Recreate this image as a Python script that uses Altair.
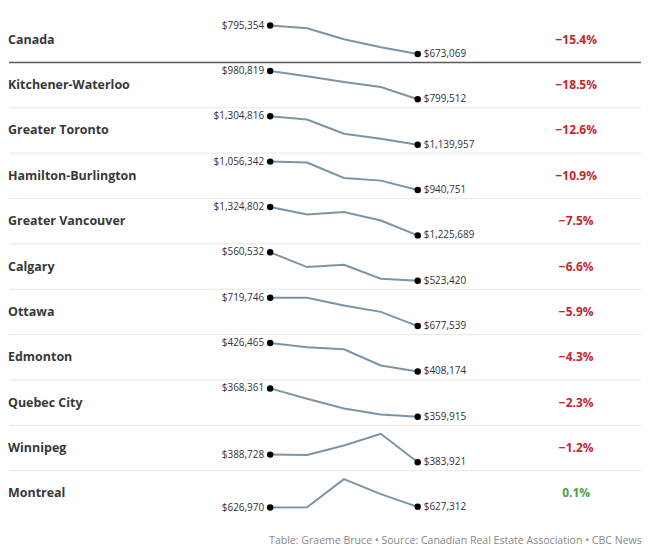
import altair as alt
import pandas as pd

cities = ["Canada", "Kitchener-Waterloo", "Greater Toronto", "Hamilton-Burlington",
          "Greater Vancouver", "Calgary", "Ottawa", "Edmonton", "Quebec City",
          "Winnipeg", "Montreal"]
price_1 = [795354, 980819, 1304816, 1056342, 1324802, 560532, 719746, 426465, 368361, 388728, 626970]
price_2 = [783700, 946900, 1285900, 1052400, 1298200, 541300, 719500, 423700, 365300, 388500, 627100]
price_3 = [736200, 910300, 1203400, 989800, 1307600, 544300, 708000, 422400, 362400, 394500, 641000]
price_4 = [701600, 878400, 1174600, 979000, 1277500, 526000, 698700, 412000, 360600, 402000, 633600]
price_5 = [673069, 799512, 1139957, 940751, 1225689, 523420, 677539, 408174, 359915, 383921, 627312]
pct_change = [-15.4, -18.5, -12.6, -10.9, -7.5, -6.6, -5.9, -4.3, -2.3, -1.2, 0.1]
footer = "Table: Graeme Bruce \u2022 Source: Canadian Real Estate Association \u2022 CBC News"

series = [price_1, price_2, price_3, price_4, price_5]
rows = []
for i, c in enumerate(cities):
    for j, s in enumerate(series):
        rows.append({"city": c, "period": j, "price": s[i]})
df = pd.DataFrame(rows)

cdf = pd.DataFrame({
    "city": cities,
    "pct": pct_change,
    "pct_label": [f"{v:.1f}%".replace("-", "\u2212") for v in pct_change],
})
sep_dark = pd.DataFrame({"city": cities[1:2]})
sep_light = pd.DataFrame({"city": cities[2:]})

FONT = "Open Sans"
yscale = alt.Scale(type="band", domain=cities, range=[8.25, 508.75], paddingInner=0, paddingOuter=0)
yoff_scale = alt.Scale(domain=[0, 1], range=[37, 8.5])
xscale = alt.Scale(domain=[0, 4], range=[262, 410])

Y0 = alt.Y("city:N", scale=yscale, axis=None, bandPosition=0)
YC = alt.Y("city:N", scale=yscale, axis=None)
X = alt.X("period:Q", scale=xscale, axis=None)
YO = alt.YOffset("norm:Q", scale=yoff_scale)

base = alt.Chart(df).transform_joinaggregate(
    pmin="min(price)", pmax="max(price)", groupby=["city"]
).transform_calculate(
    norm="(datum.price - datum.pmin) / (datum.pmax - datum.pmin)"
)

rule_dark = alt.Chart(sep_dark).mark_rule(color="#5a5a5a", strokeWidth=1.5).encode(
    y=Y0, x=alt.value(0), x2=alt.value(634)
)
rule_light = alt.Chart(sep_light).mark_rule(color="#e8e8e8", strokeWidth=1).encode(
    y=Y0, x=alt.value(0), x2=alt.value(634)
)

line = base.mark_line(color="#7b95a6", strokeWidth=2).encode(
    x=X, y=Y0, yOffset=YO, detail="city:N", order="period:Q"
)
points = base.transform_filter("datum.period == 0 || datum.period == 4").mark_circle(
    size=42, color="black", opacity=1
).encode(x=X, y=Y0, yOffset=YO)

start_lbl = base.transform_filter("datum.period == 0").mark_text(
    align="right", dx=-6, baseline="middle", font=FONT, fontSize=10, color="#333333"
).encode(x=X, y=Y0, yOffset=YO, text=alt.Text("price:Q", format="$,d"))

end_lbl = base.transform_filter("datum.period == 4").mark_text(
    align="left", dx=6, baseline="middle", font=FONT, fontSize=10, color="#333333"
).encode(x=X, y=Y0, yOffset=YO, text=alt.Text("price:Q", format="$,d"))

names = alt.Chart(cdf).mark_text(
    align="left", baseline="middle", font=FONT, fontSize=12.5, fontWeight="bold", color="#383838"
).encode(x=alt.value(-1), y=YC, text="city:N")

pct = alt.Chart(cdf).mark_text(
    align="center", baseline="middle", font=FONT, fontSize=12, fontWeight="bold"
).encode(
    x=alt.value(569), y=YC, text="pct_label:N",
    color=alt.condition(alt.datum.pct < 0, alt.value("#c4262e"), alt.value("#46a346")),
)

chart = alt.layer(rule_dark, rule_light, line, points, start_lbl, end_lbl, names, pct).properties(
    width=634, height=509, padding=0,
    title=alt.TitleParams(
        text=footer, orient="bottom", anchor="end", font=FONT, fontSize=10.6,
        fontWeight="normal", color="#888888", offset=20,
    ),
).configure_view(stroke=None)

chart.save("out.html", embed_options={"renderer": "svg", "actions": False})
